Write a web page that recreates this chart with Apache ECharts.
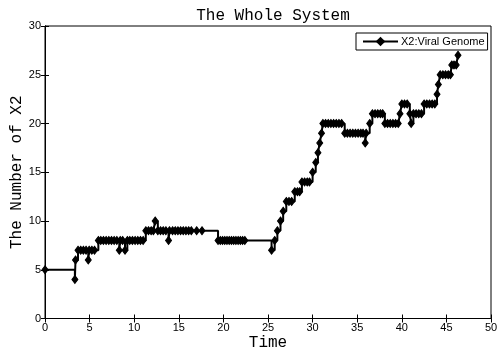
<!DOCTYPE html>
<html>
<head>
<meta charset="utf-8">
<script src="https://cdn.jsdelivr.net/npm/echarts@6/dist/echarts.min.js"></script>
<style>html,body{margin:0;padding:0;background:#fff}#c{width:499px;height:351px}</style>
</head>
<body>
<div id="c"></div>
<script>
// Event times and X2 counts (stairs plot)
var times = [0, 3.35, 3.42, 3.7, 4.0, 4.3, 4.6, 4.85, 4.95, 5.25, 5.55,
  5.98, 6.25, 6.55, 6.85, 7.15, 7.45, 7.75, 8.05, 8.33, 8.43, 8.7, 8.97, 9.23,
  9.5, 9.8, 10.1, 10.4, 10.7, 11.0, 11.3, 11.6, 11.9, 12.15, 12.35, 12.65,
  12.95, 13.25, 13.55, 13.85, 13.95, 14.3, 14.6, 14.9, 15.2, 15.5, 15.8, 16.1,
  16.4, 17.0, 17.6, 19.4, 19.65, 19.9, 20.15, 20.4, 20.65, 20.9, 21.15, 21.4,
  21.65, 21.9, 22.15, 22.4, 25.4, 25.75, 26.05, 26.4, 26.7, 27.05, 27.35,
  27.65, 28.0, 28.3, 28.55, 28.8, 29.1, 29.4, 29.65, 30.0, 30.35, 30.6, 30.8,
  31.0, 31.15, 31.45, 31.75, 32.05, 32.35, 32.65, 32.95, 33.25, 33.6, 33.9,
  34.2, 34.5, 34.8, 35.1, 35.4, 35.65, 35.9, 36.0, 36.4, 36.7, 37.0, 37.3,
  37.6, 37.85, 38.1, 38.4, 38.7, 39.0, 39.3, 39.6, 39.8, 40.0, 40.3, 40.6,
  40.9, 41.05, 41.3, 41.6, 41.9, 42.2, 42.5, 42.8, 43.1, 43.4, 43.7, 43.95,
  44.1, 44.3, 44.6, 44.9, 45.2, 45.45, 45.6, 45.85, 46.1, 46.3];
var counts = [5, 4, 6, 7, 7, 7, 7, 6, 7, 7, 7,
  8, 8, 8, 8, 8, 8, 8, 8, 7, 8, 8, 7, 8,
  8, 8, 8, 8, 8, 8, 9, 9, 9, 9, 10, 9,
  9, 9, 9, 8, 9, 9, 9, 9, 9, 9, 9, 9,
  9, 9, 9, 8, 8, 8, 8, 8, 8, 8, 8, 8,
  8, 8, 8, 8, 7, 8, 9, 10, 11, 12, 12,
  12, 13, 13, 13, 14, 14, 14, 14, 15, 16, 17, 18,
  19, 20, 20, 20, 20, 20, 20, 20, 20, 19, 19,
  19, 19, 19, 19, 19, 19, 18, 19, 20, 21, 21, 21,
  21, 21, 20, 20, 20, 20, 20, 20, 21, 22, 22, 22,
  21, 20, 21, 21, 21, 21, 22, 22, 22, 22, 22, 23,
  24, 25, 25, 25, 25, 25, 26, 26, 26, 27];
var xTicks = [0, 5, 10, 15, 20, 25, 30, 35, 40, 45, 50];
var yTicks = [0, 5, 10, 15, 20, 25, 30];
var seriesName = 'X2:Viral Genome';

var data = times.map(function (t, i) { return [t, counts[i]]; });
var mono = '"Liberation Mono","DejaVu Sans Mono",monospace';
var sans = '"Liberation Sans",Arial,sans-serif';

function axisCommon(showLabel) {
  return {
    axisLine: {show: true, lineStyle: {color: '#000', width: 1}},
    axisTick: {show: true, inside: true, length: 4, lineStyle: {color: '#000'}},
    axisLabel: {show: showLabel, color: '#000', fontFamily: sans, fontSize: 11},
    splitLine: {show: false}
  };
}

var chart = echarts.init(document.getElementById('c'), null, {renderer: 'canvas'});
var xb = axisCommon(true);
var xt = axisCommon(false);
var yl = axisCommon(true);
var yr = axisCommon(false);
chart.setOption({
  animation: false,
  backgroundColor: '#fff',
  title: {
    text: 'The Whole System', left: 268, textAlign: 'center', top: 3,
    textStyle: {fontFamily: mono, fontSize: 16, fontWeight: 'normal', color: '#000'}
  },
  grid: {left: 45, right: 8, top: 26, bottom: 32.5, show: true, borderColor: '#000', borderWidth: 1,
    containLabel: false, outerBoundsMode: 'none'},
  legend: {
    data: [seriesName], left: 356, top: 33,
    borderColor: '#000', borderWidth: 1, borderRadius: 0,
    padding: [3, 3, 3, 6], itemWidth: 35, itemHeight: 12, itemGap: 5,
    backgroundColor: '#fff',
    textStyle: {fontFamily: sans, fontSize: 11, color: '#000', padding: [0, 0, 0, -2]}
  },
  xAxis: [
    Object.assign({type: 'value', position: 'bottom', min: 0, max: 50, interval: 5,
      name: 'Time', nameLocation: 'middle', nameGap: 16, nameMoveOverlap: false,
      nameTextStyle: {fontFamily: mono, fontSize: 16, color: '#000'}}, xb,
      {axisLabel: Object.assign({}, xb.axisLabel, {margin: 4,
        formatter: function (v) { return xTicks.indexOf(v) >= 0 ? String(v) : ''; }})}),
    Object.assign({type: 'value', position: 'top', min: 0, max: 50, interval: 5}, xt)
  ],
  yAxis: [
    Object.assign({type: 'value', position: 'left', min: 0, max: 30, interval: 5,
      name: 'The Number of X2', nameLocation: 'middle', nameGap: 20, nameMoveOverlap: false,
      nameTextStyle: {fontFamily: mono, fontSize: 16, color: '#000'}}, yl,
      {axisLabel: Object.assign({}, yl.axisLabel, {margin: 4,
        formatter: function (v) { return yTicks.indexOf(v) >= 0 ? String(v) : ''; }})}),
    Object.assign({type: 'value', position: 'right', min: 0, max: 30, interval: 5}, yr)
  ],
  series: [{
    name: seriesName, type: 'line', step: 'end', data: data,
    xAxisIndex: 0, yAxisIndex: 0,
    symbol: 'diamond', symbolSize: [6, 8], showAllSymbol: true,
    lineStyle: {color: '#000', width: 2},
    itemStyle: {color: '#000', borderColor: '#000'},
    emphasis: {disabled: true}
  }]
});
</script>
</body>
</html>
